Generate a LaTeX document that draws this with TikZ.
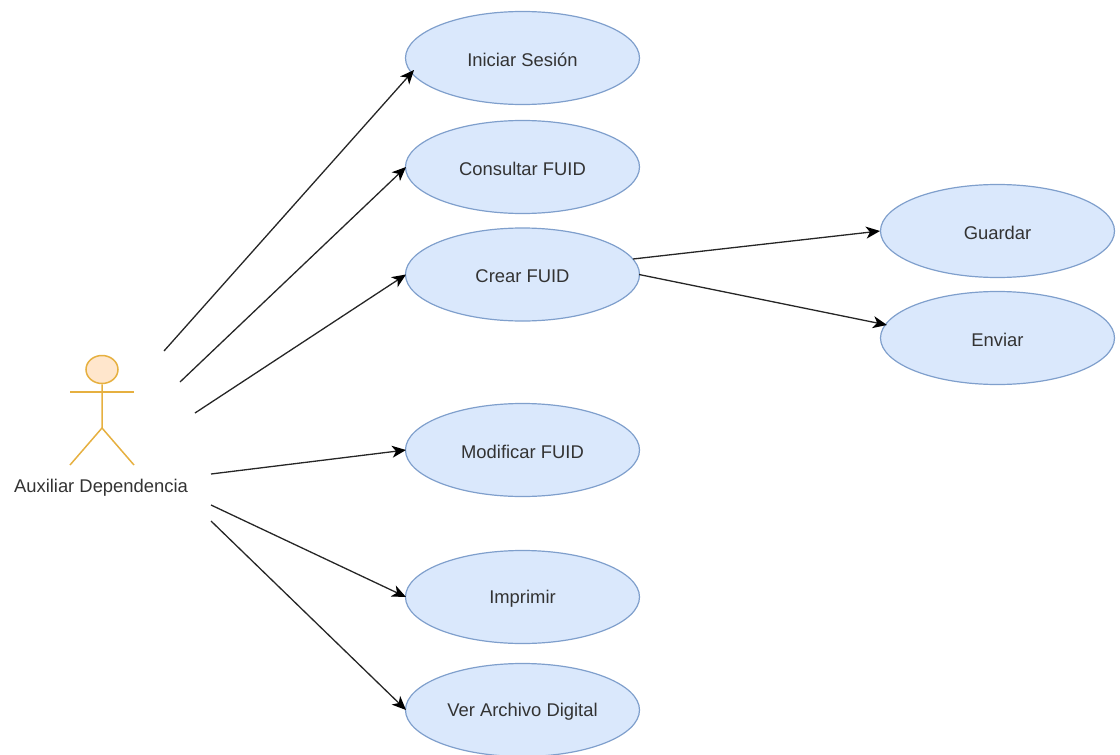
\documentclass[tikz,border=0pt]{standalone}
\usepackage{fontspec}
\setmainfont{Liberation Sans}
\usetikzlibrary{arrows.meta,shapes.geometric}
\definecolor{ufill}{HTML}{DAE8FC}
\definecolor{uline}{HTML}{7F9FCC}
\definecolor{afill}{HTML}{FFE6CC}
\definecolor{aline}{HTML}{E6B040}
\definecolor{txt}{HTML}{333333}
\newcommand\uclabel[1]{\raisebox{-2pt}[\height][\depth]{#1}}
\tikzset{
 x=1pt,y=-1pt,
 usecase/.style={ellipse,draw=uline,fill=ufill,line width=1.2pt,minimum width=234pt,minimum height=93pt,inner sep=0pt,font=\fontsize{18.4}{22}\selectfont,text=txt},
 link/.style={draw=black!85,line width=1.3pt,-{Stealth[length=14pt,width=12pt,inset=4pt,color=black]}},
 actorline/.style={draw=aline,line width=1.5pt}
}
\begin{document}
\begin{tikzpicture}
\useasboundingbox (0,0) rectangle (1120,755);
\node[usecase] (a) at (522.5,58) {\uclabel{Iniciar Sesión}};
\node[usecase] (b) at (522.5,167) {\uclabel{Consultar FUID}};
\node[usecase] (c) at (522.5,274.5) {\uclabel{Crear FUID}};
\node[usecase] (d) at (522.5,450) {\uclabel{Modificar FUID}};
\node[usecase] (e) at (522.5,597) {\uclabel{Imprimir}};
\node[usecase] (f) at (522.5,710) {\uclabel{Ver Archivo Digital}};
\node[usecase] (g) at (997.5,231) {\uclabel{Guardar}};
\node[usecase] (h) at (997.5,338) {\uclabel{Enviar}};
\node[ellipse,draw=aline,fill=afill,line width=1.5pt,minimum width=32pt,minimum height=28pt,inner sep=0pt] (head) at (102,369.5) {};
\coordinate (hip) at (102,428);
\coordinate (armL) at (70,392);
\coordinate (armR) at (134,392);
\coordinate (legL) at (70,465);
\coordinate (legR) at (134,465);
\draw[actorline] (head.south) -- (hip) -- (legL);
\draw[actorline] (hip) -- (legR);
\draw[actorline] (armL) -- (armR);
\node[font=\fontsize{18.4}{22}\selectfont,text=txt] (actor) at (101,488) {Auxiliar Dependencia};
\coordinate (s1) at (164,351);
\coordinate (s2) at (180,382);
\coordinate (s3) at (195,413);
\coordinate (s4) at (211,474);
\coordinate (s5) at (211,505);
\coordinate (s6) at (211,521);
\coordinate (t1) at (414,70);
\coordinate (t2) at (406,167);
\coordinate (t3) at (406,274.5);
\coordinate (t4) at (406,450);
\coordinate (t5) at (406,597);
\coordinate (t6) at (406,710);
\coordinate (s7) at (633,259);
\coordinate (s8) at (639,274.5);
\coordinate (t7) at (880,231);
\coordinate (t8) at (887,325);
\draw[link] (s1) -- (t1);
\draw[link] (s2) -- (t2);
\draw[link] (s3) -- (t3);
\draw[link] (s4) -- (t4);
\draw[link] (s5) -- (t5);
\draw[link] (s6) -- (t6);
\draw[link] (s7) -- (t7);
\draw[link] (s8) -- (t8);
\end{tikzpicture}
\end{document}
